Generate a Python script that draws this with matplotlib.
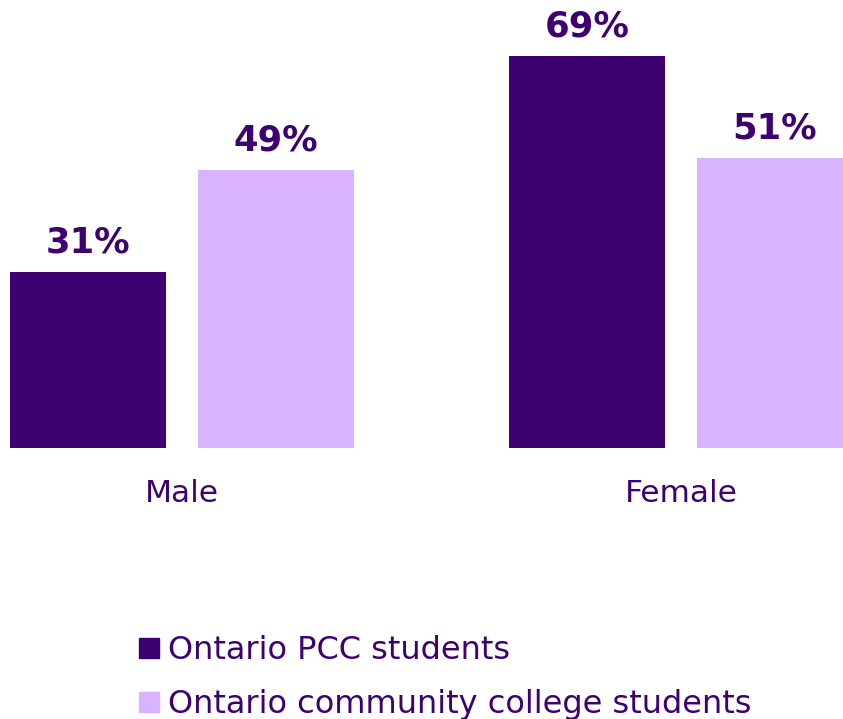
import matplotlib.pyplot as plt
from matplotlib.lines import Line2D

# ==========================================================
# Data
# ==========================================================

CATEGORIES = ["Male", "Female"]

PCC_VALUES = [31, 69]

COLLEGE_VALUES = [49, 51]

SERIES_NAMES = [
    "Ontario PCC students",
    "Ontario community college students"
]

DARK = "#3f0071"
LIGHT = "#d9b3ff"
TEXT = "#3f0071"

# ==========================================================
# Plot
# ==========================================================

fig = plt.figure(figsize=(8.43, 7.19), dpi=100)

ax = fig.add_axes([0, 0.3769, 1, 0.6231])

x = list(range(len(CATEGORIES)))
width = 0.3126
offset = 0.1884

bars_pcc = ax.bar(
    [i - offset for i in x],
    PCC_VALUES,
    width,
    color=DARK
)

bars_col = ax.bar(
    [i + offset for i in x],
    COLLEGE_VALUES,
    width,
    color=LIGHT
)

for bars, values in [(bars_pcc, PCC_VALUES), (bars_col, COLLEGE_VALUES)]:
    for b, v in zip(bars, values):
        ax.annotate(
            f"{v}%",
            (b.get_x() + b.get_width() / 2, v),
            xytext=(0, 9),
            textcoords="offset points",
            ha="center",
            va="bottom",
            fontsize=25.5,
            fontweight="bold",
            color=TEXT
        )

ax.set_xlim(-0.3647, 1.3246)
ax.set_ylim(0, 78.87)

ax.set_xticks(x)
ax.set_xticklabels(CATEGORIES, fontsize=22.5, color=TEXT)
ax.tick_params(axis="x", length=0, pad=22)
ax.set_yticks([])

for s in ax.spines.values():
    s.set_visible(False)

handles = [
    Line2D([], [], marker="s", linestyle="none", markersize=13.7,
           markerfacecolor=DARK, markeredgecolor=DARK),
    Line2D([], [], marker="s", linestyle="none", markersize=13.7,
           markerfacecolor=LIGHT, markeredgecolor=LIGHT),
]

leg = fig.legend(
    handles,
    SERIES_NAMES,
    loc="upper left",
    bbox_to_anchor=(0.165, 0.117),
    frameon=False,
    fontsize=23,
    handlelength=0.6,
    handletextpad=0.3,
    labelspacing=0.72,
    borderpad=0,
    borderaxespad=0
)

for t in leg.get_texts():
    t.set_color(TEXT)

fig.savefig("out.png", dpi=100)
